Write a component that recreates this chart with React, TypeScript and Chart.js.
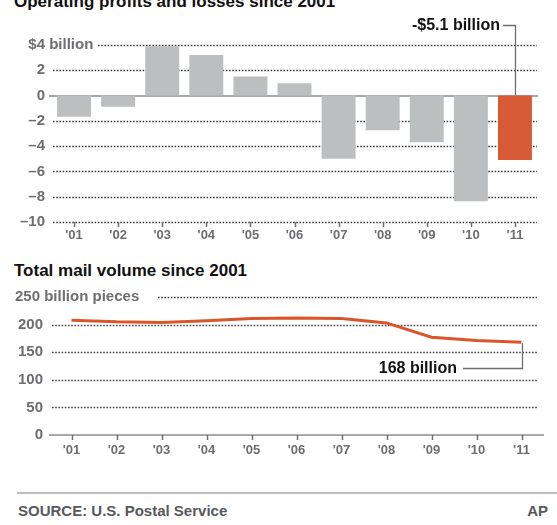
import React, { useEffect, useRef } from "react";
import { Chart, registerables } from "chart.js";

Chart.register(...registerables);

const FONT = '"Liberation Sans", Arial, sans-serif';

const years = ["'01", "'02", "'03", "'04", "'05", "'06", "'07", "'08", "'09", "'10", "'11"];
const operatingResult = [-1.67, -0.88, 3.9, 3.2, 1.5, 0.97, -5.0, -2.75, -3.7, -8.35, -5.1];
const profitTicks = [4, 2, 0, -2, -4, -6, -8, -10];
const mailVolume = [208, 205, 204, 207, 211, 212, 211, 203, 177, 171, 168];
const volumeTicks = [250, 200, 150, 100, 50, 0];

const GRAY_BAR = "#bcbec0";
const RED_BAR = "#d65a36";
const LINE_RED = "#d9562b";
const TICK_GRAY = "#6d6e71";
const DOT = "#414042";
const AXIS_GRAY = "#a7a9ac";
const LEADER = "#6d6e71";

const fmt = (v: number) => (v < 0 ? "\u2013" + Math.abs(v) : String(v));

function dottedLine(ctx: CanvasRenderingContext2D, x1: number, x2: number, y: number) {
  ctx.save();
  ctx.strokeStyle = DOT;
  ctx.lineWidth = 1.7;
  ctx.setLineDash([1.6, 1.6]);
  ctx.beginPath();
  ctx.moveTo(x1, y);
  ctx.lineTo(x2, y);
  ctx.stroke();
  ctx.restore();
}

function solidLine(ctx: CanvasRenderingContext2D, pts: number[][], color: string, width: number) {
  ctx.save();
  ctx.strokeStyle = color;
  ctx.lineWidth = width;
  ctx.setLineDash([]);
  ctx.beginPath();
  pts.forEach((p, i) => (i === 0 ? ctx.moveTo(p[0], p[1]) : ctx.lineTo(p[0], p[1])));
  ctx.stroke();
  ctx.restore();
}

const profitPlugin = {
  id: "profitDecor",
  beforeDatasetsDraw(chart: any) {
    const { ctx, chartArea, scales } = chart;
    const x = scales.x;
    const y = scales.y;
    profitTicks.forEach((v) => {
      const py = Math.round(y.getPixelForValue(v));
      if (v === 0) {
        solidLine(ctx, [[chartArea.left - 3, py], [chartArea.right + 1, py]], AXIS_GRAY, 2);
      } else {
        dottedLine(ctx, v === 4 ? 98 : chartArea.left + 1, chartArea.right, py + 0.5);
      }
    });
    const by = Math.round(y.getPixelForValue(-10));
    years.forEach((_, i) => {
      const px = Math.round(x.getPixelForValue(i)) + 0.5;
      solidLine(ctx, [[px, by], [px, by + 5]], TICK_GRAY, 1.5);
    });
  },
  afterDraw(chart: any) {
    const { ctx, chartArea, scales } = chart;
    const x = scales.x;
    const y = scales.y;
    ctx.save();
    ctx.font = `bold 15px ${FONT}`;
    ctx.fillStyle = TICK_GRAY;
    ctx.textBaseline = "middle";
    ctx.textAlign = "left";
    const labelRight = chartArea.left - 7;
    const w4 = ctx.measureText("$4").width;
    ctx.fillText("$4 billion", labelRight - w4, y.getPixelForValue(4));

    const last = operatingResult.length - 1;
    const bx = Math.round(x.getPixelForValue(last)) + 0.5;
    const ay = 25.5;
    ctx.font = `bold 16px ${FONT}`;
    ctx.fillStyle = "#111";
    ctx.textAlign = "right";
    ctx.fillText("-$5.1 billion", 500, ay);
    ctx.restore();
    solidLine(ctx, [[503, ay], [bx, ay], [bx, y.getPixelForValue(0)]], LEADER, 1.3);
  },
};

const volumePlugin = {
  id: "volumeDecor",
  beforeDatasetsDraw(chart: any) {
    const { ctx, chartArea, scales } = chart;
    const x = scales.x;
    const y = scales.y;
    volumeTicks.forEach((v) => {
      const py = Math.round(y.getPixelForValue(v));
      if (v === 0) {
        solidLine(ctx, [[chartArea.left, py], [chartArea.right, py]], AXIS_GRAY, 2);
      } else {
        dottedLine(ctx, v === 250 ? 158 : chartArea.left + 3, 537, py + 0.5);
      }
    });
    const by = Math.round(y.getPixelForValue(0));
    years.forEach((_, i) => {
      const px = Math.round(x.getPixelForValue(i)) + 0.5;
      solidLine(ctx, [[px, by], [px, by + 5]], TICK_GRAY, 1.5);
    });
  },
  afterDraw(chart: any) {
    const { ctx, scales } = chart;
    const x = scales.x;
    const y = scales.y;
    ctx.save();
    ctx.font = `bold 15px ${FONT}`;
    ctx.fillStyle = TICK_GRAY;
    ctx.textBaseline = "middle";
    ctx.textAlign = "left";
    ctx.fillText("250 billion pieces", 15, y.getPixelForValue(250));

    const last = mailVolume.length - 1;
    const lx = Math.round(x.getPixelForValue(last)) + 0.5;
    const ly = y.getPixelForValue(mailVolume[last]);
    const ay = Math.round(ly + 26) + 0.5;
    ctx.font = `bold 16px ${FONT}`;
    ctx.fillStyle = "#111";
    ctx.textAlign = "right";
    ctx.fillText("168 billion", 457, ay);
    ctx.restore();
    solidLine(ctx, [[463, ay], [lx, ay], [lx, ly + 1]], LEADER, 1.3);
  },
};

function ProfitChart() {
  const ref = useRef<HTMLCanvasElement>(null);
  useEffect(() => {
    if (!ref.current) return;
    const last = operatingResult.length - 1;
    const chart = new Chart(ref.current, {
      type: "bar",
      data: {
        labels: years,
        datasets: [
          {
            data: operatingResult,
            backgroundColor: operatingResult.map((_, i) => (i === last ? RED_BAR : GRAY_BAR)),
            borderWidth: 0,
            barPercentage: 0.77,
            categoryPercentage: 1,
          },
        ],
      },
      options: {
        animation: false,
        responsive: false,
        events: [],
        plugins: { legend: { display: false }, tooltip: { enabled: false } },
        layout: { padding: { top: 45, right: 20, left: 0, bottom: 0 } },
        scales: {
          x: {
            offset: true,
            grid: { display: false, drawTicks: false },
            border: { display: false },
            ticks: {
              color: TICK_GRAY,
              font: { family: FONT, size: 13, weight: "bold" },
              padding: 6,
              maxRotation: 0,
              autoSkip: false,
            },
            afterFit: (s: any) => {
              s.height = 28;
            },
          },
          y: {
            min: -10,
            max: 4,
            grid: { display: false, drawTicks: false },
            border: { display: false },
            afterBuildTicks: (s: any) => {
              s.ticks = profitTicks.map((v) => ({ value: v }));
            },
            ticks: {
              color: TICK_GRAY,
              font: { family: FONT, size: 15, weight: "bold" },
              padding: 7,
              callback: (v: any) => (v === 4 ? "" : fmt(Number(v))),
            },
            afterFit: (s: any) => {
              s.width = 52;
            },
          },
        },
      } as any,
      plugins: [profitPlugin],
    });
    return () => chart.destroy();
  }, []);
  return (
    <canvas
      ref={ref}
      width={557}
      height={250}
      style={{ position: "absolute", left: 0, top: 0, width: 557, height: 250 }}
    />
  );
}

function VolumeChart() {
  const ref = useRef<HTMLCanvasElement>(null);
  useEffect(() => {
    if (!ref.current) return;
    const chart = new Chart(ref.current, {
      type: "line",
      data: {
        labels: years,
        datasets: [
          {
            data: mailVolume,
            borderColor: LINE_RED,
            borderWidth: 3,
            pointRadius: 0,
            tension: 0,
            fill: false,
          },
        ],
      },
      options: {
        animation: false,
        responsive: false,
        events: [],
        plugins: { legend: { display: false }, tooltip: { enabled: false } },
        layout: { padding: { top: 47, right: 13, left: 0, bottom: 0 } },
        scales: {
          x: {
            offset: true,
            grid: { display: false, drawTicks: false },
            border: { display: false },
            ticks: {
              color: TICK_GRAY,
              font: { family: FONT, size: 13, weight: "bold" },
              padding: 8,
              maxRotation: 0,
              autoSkip: false,
            },
            afterFit: (s: any) => {
              s.height = 40;
            },
          },
          y: {
            min: 0,
            max: 250,
            grid: { display: false, drawTicks: false },
            border: { display: false },
            afterBuildTicks: (s: any) => {
              s.ticks = volumeTicks.map((v) => ({ value: v }));
            },
            ticks: {
              color: TICK_GRAY,
              font: { family: FONT, size: 15, weight: "bold" },
              padding: 6,
              callback: (v: any) => (v === 250 ? "" : String(v)),
            },
            afterFit: (s: any) => {
              s.width = 49;
            },
          },
        },
      } as any,
      plugins: [volumePlugin],
    });
    return () => chart.destroy();
  }, []);
  return (
    <canvas
      ref={ref}
      width={557}
      height={225}
      style={{ position: "absolute", left: 0, top: 250, width: 557, height: 225 }}
    />
  );
}

const titleStyle: React.CSSProperties = {
  position: "absolute",
  left: 14,
  margin: 0,
  font: `bold 17px/17px ${FONT}`,
  color: "#111",
  whiteSpace: "nowrap",
};

export default function App() {
  return (
    <div
      style={{
        position: "absolute",
        left: 0,
        top: 0,
        width: 557,
        height: 525,
        background: "#fff",
        overflow: "hidden",
      }}
    >
      <div style={{ ...titleStyle, top: -7 }}>Operating profits and losses since 2001</div>
      <ProfitChart />
      <div style={{ ...titleStyle, top: 262 }}>Total mail volume since 2001</div>
      <VolumeChart />
      <div
        style={{
          position: "absolute",
          left: 17,
          top: 492,
          width: 540,
          height: 2,
          background: "#bcbec0",
        }}
      />
      <div
        style={{
          position: "absolute",
          left: 18,
          top: 503,
          font: `bold 15px/15px ${FONT}`,
          color: "#58595b",
          whiteSpace: "nowrap",
        }}
      >
        SOURCE: U.S. Postal Service
      </div>
      <div
        style={{
          position: "absolute",
          right: 9,
          top: 503,
          font: `bold 15px/15px ${FONT}`,
          color: "#58595b",
          whiteSpace: "nowrap",
        }}
      >
        AP
      </div>
    </div>
  );
}
